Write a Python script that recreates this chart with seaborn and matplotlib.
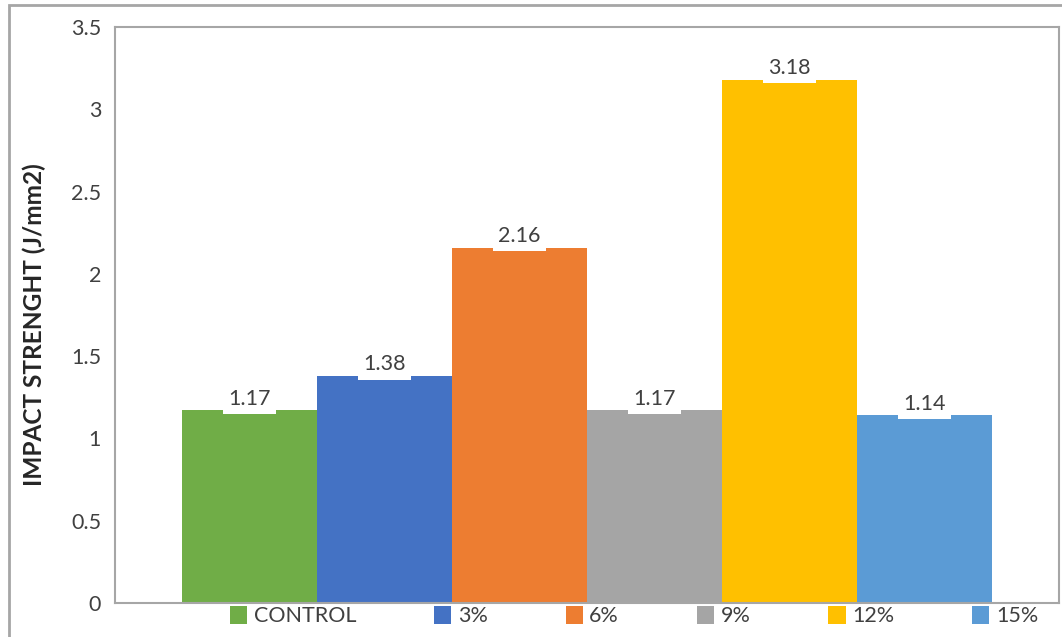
import matplotlib
matplotlib.use('Agg')
import matplotlib.pyplot as plt
import seaborn as sns
from matplotlib.patches import Patch, Rectangle

# Datos del gráfico
categories = ['CONTROL', '3%', '6%', '9%', '12%', '15%']
values = [1.17, 1.38, 2.16, 1.17, 3.18, 1.14]
colors = ['#70AD47', '#4472C4', '#ED7D31', '#A5A5A5', '#FFC000', '#5B9BD5']
y_ticks = [0, 0.5, 1, 1.5, 2, 2.5, 3, 3.5]
y_tick_labels = ['0', '0.5', '1', '1.5', '2', '2.5', '3', '3.5']

sns.set_style('white')
plt.rcParams['font.family'] = ['Lato', 'DejaVu Sans']

W, H = 1062, 637
fig = plt.figure(figsize=(W / 100, H / 100), dpi=100)
ax = fig.add_axes([115 / W, 1 - 603 / H, (1059 - 115) / W, (603 - 27) / H])

sns.barplot(x=categories, y=values, hue=categories, palette=colors,
            width=1.0, saturation=1, linewidth=0, legend=False, ax=ax)

ax.set_xlim(-1, 6)
ax.set_ylim(0, 3.5)
ax.set_yticks(y_ticks)
ax.set_yticklabels(y_tick_labels)
ax.set_xticks([])
ax.set_xlabel('')
ax.tick_params(axis='y', length=0, pad=10, labelsize=15.5, labelcolor='#404040')
ax.set_ylabel('IMPACT STRENGHT (J/mm2)', fontsize=17.6, fontweight='bold',
              color='#262626')
ax.yaxis.set_label_coords(-0.073, 0.483)
for s in ax.spines.values():
    s.set_color('#a6a6a6')
    s.set_linewidth(1.5)

# Etiquetas de valores
for i, v in enumerate(values):
    ax.annotate(f'{v:.2f}', xy=(i, v), xytext=(0, 4), textcoords='offset points',
                ha='center', va='baseline', fontsize=15.5, color='#404040',
                bbox=dict(boxstyle='square,pad=0.25', fc='white', ec='none'))

# Leyenda
handles = [Patch(facecolor=c, edgecolor='none') for c in colors]
fig.legend(handles, categories, ncol=6, loc='upper left',
           bbox_to_anchor=(230 / W, 1 - 606 / H), frameon=False,
           fontsize=15.5, handlelength=0.8, handleheight=0.9,
           handletextpad=0.3, columnspacing=3.62, borderpad=0,
           borderaxespad=0, labelcolor='#404040')

# Marco exterior
fig.patches.append(Rectangle((9 / W, -0.1), 1.2, 1 - 5 / H + 0.1,
                             transform=fig.transFigure, fill=False,
                             ec='#a6a6a6', lw=2))

fig.savefig('out.png', dpi=100)
